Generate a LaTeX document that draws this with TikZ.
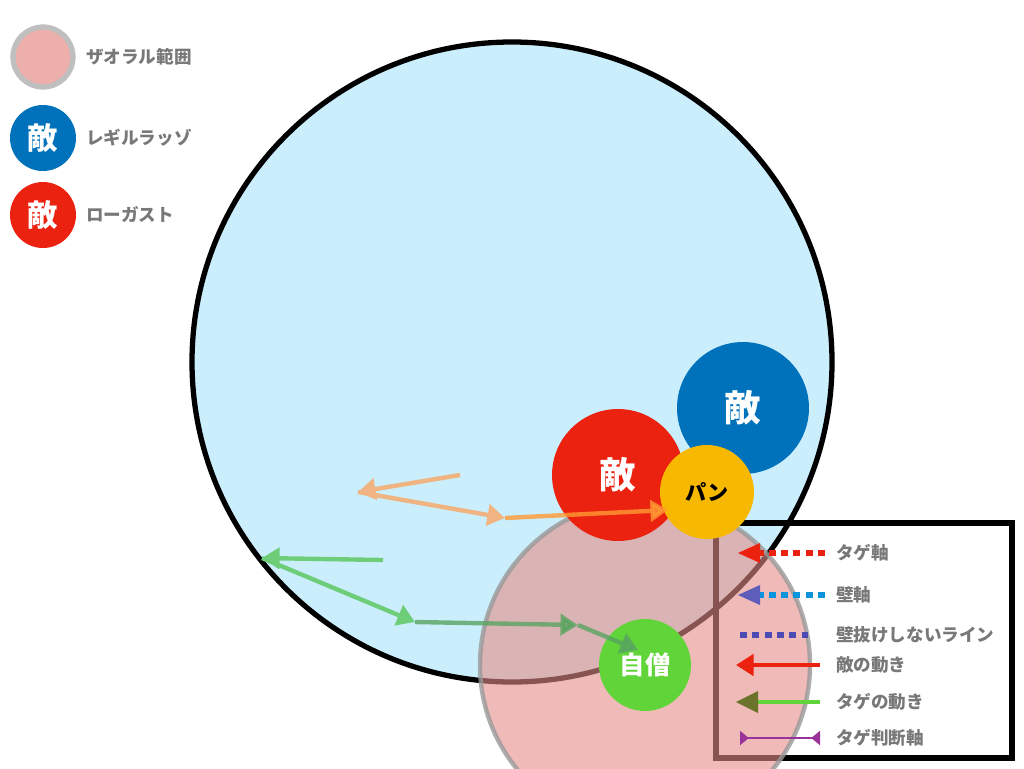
\documentclass[tikz,border=0pt]{standalone}
\usepackage{fontspec}
\setmainfont{Noto Sans CJK JP}
\usetikzlibrary{arrows.meta}
\definecolor{skyfill}{RGB}{203,238,252}
\definecolor{zafill}{RGB}{228,140,135}
\definecolor{enblue}{RGB}{0,114,188}
\definecolor{enred}{RGB}{236,34,16}
\definecolor{panyel}{RGB}{246,184,0}
\definecolor{selfgr}{RGB}{96,212,56}
\definecolor{txtgray}{RGB}{120,120,120}
\definecolor{orarr}{RGB}{240,180,130}
\definecolor{grarr}{RGB}{110,205,120}
\begin{document}
\begin{tikzpicture}[x=0.02cm,y=-0.02cm,
unit/.style={circle,inner sep=0pt,font=\bfseries\huge,text=white},
legtext/.style={anchor=west,font=\bfseries,text=txtgray},
mvarrow/.style={line width=2.5pt,-{Triangle[length=10pt,width=12pt]}}]
\useasboundingbox (0,0) rectangle (1024,768);
% range circles
\fill[skyfill] (512,362) circle (320);
\draw[line width=3pt] (512,362) circle (320);
% legend box
\draw[line width=3pt] (716,523) rectangle (1012,758);
% zaoral range
\fill[zafill,fill opacity=0.6] (645,665) circle (165);
\draw[gray!80,line width=2.5pt,opacity=0.8] (645,665) circle (165);
% units
\node (ene2) [unit,fill=enblue,minimum size=2.64cm] at (743,408) {敵};
\node (ene1) [unit,fill=enred,minimum size=2.64cm] at (618,475) {敵};
\node (pan) [unit,fill=panyel,minimum size=1.88cm,text=black,font=\bfseries\large] at (707,492) {パン};
\node (self) [unit,fill=selfgr,minimum size=1.84cm,font=\bfseries\Large] at (645,665) {自僧};
% movement
\coordinate (o1) at (460,475);
\coordinate (o2) at (358,492);
\coordinate (o3) at (505,518);
\coordinate (o4) at (668,510);
\draw[mvarrow,orarr] (o1) -- (o2);
\draw[mvarrow,orarr] (o2) -- (o3);
\draw[mvarrow,orange!80,opacity=0.8] (o3) -- (o4);
\coordinate (g1) at (383,560);
\coordinate (g2) at (262,558);
\coordinate (g3) at (415,622);
\coordinate (g4) at (578,625);
\coordinate (g5) at (638,650);
\draw[mvarrow,grarr] (g1) -- (g2);
\draw[mvarrow,grarr] (g2) -- (g3);
\draw[mvarrow,grarr!80!black,opacity=0.8] (g3) -- (g4);
\draw[mvarrow,grarr!80!black,opacity=0.8] (g4) -- (g5);
% legend top-left
\node (lz) [circle,fill=zafill!70,draw=gray!50,line width=3pt,minimum size=1.2cm] at (43,57) {};
\node [legtext] at (80,57) {ザオラル範囲};
\node (lb) [unit,fill=enblue,minimum size=1.32cm,font=\bfseries\LARGE] at (43,138) {敵};
\node [legtext] at (80,138) {レギルラッゾ};
\node (lr) [unit,fill=enred,minimum size=1.32cm,font=\bfseries\LARGE] at (43,215) {敵};
\node [legtext] at (80,215) {ローガスト};
% legend entries
\coordinate (a1) at (738,553); \coordinate (b1) at (825,553);
\draw[enred,line width=3pt,dash pattern=on 4pt off 3pt] (b1) -- ([xshift=10]a1);
\fill[enred] (a1) -- ++(22,-10) -- ++(0,20) -- cycle;
\node [legtext] at (830,553) {タゲ軸};
\coordinate (a2) at (738,595); \coordinate (b2) at (825,595);
\draw[cyan!80!blue,line width=3pt,dash pattern=on 4pt off 3pt] (b2) -- ([xshift=10]a2);
\fill[blue!40!gray!90] (a2) -- ++(22,-10) -- ++(0,20) -- cycle;
\node [legtext] at (830,595) {壁軸};
\coordinate (a3) at (740,635); \coordinate (b3) at (808,635);
\draw[blue!40!gray,line width=3pt,dash pattern=on 4pt off 3pt] (a3) -- (b3);
\node [legtext] at (830,635) {壁抜けしないライン};
\coordinate (a4) at (736,665); \coordinate (b4) at (820,665);
\draw[mvarrow,enred] (b4) -- (a4);
\node [legtext] at (830,665) {敵の動き};
\coordinate (a5) at (736,702); \coordinate (b5) at (820,702);
\draw[selfgr,line width=2.5pt] (b5) -- ([xshift=10]a5);
\fill[olive!80!green!70!black] (a5) -- ++(22,-11) -- ++(0,22) -- cycle;
\node [legtext] at (830,702) {タゲの動き};
\coordinate (a6) at (740,738); \coordinate (b6) at (820,738);
\draw[violet!80,line width=1pt,{Triangle[reversed,length=5pt,width=8pt]}-{Triangle[reversed,length=5pt,width=8pt]}] (a6) -- (b6);
\node [legtext] at (830,738) {タゲ判断軸};
\end{tikzpicture}
\end{document}
